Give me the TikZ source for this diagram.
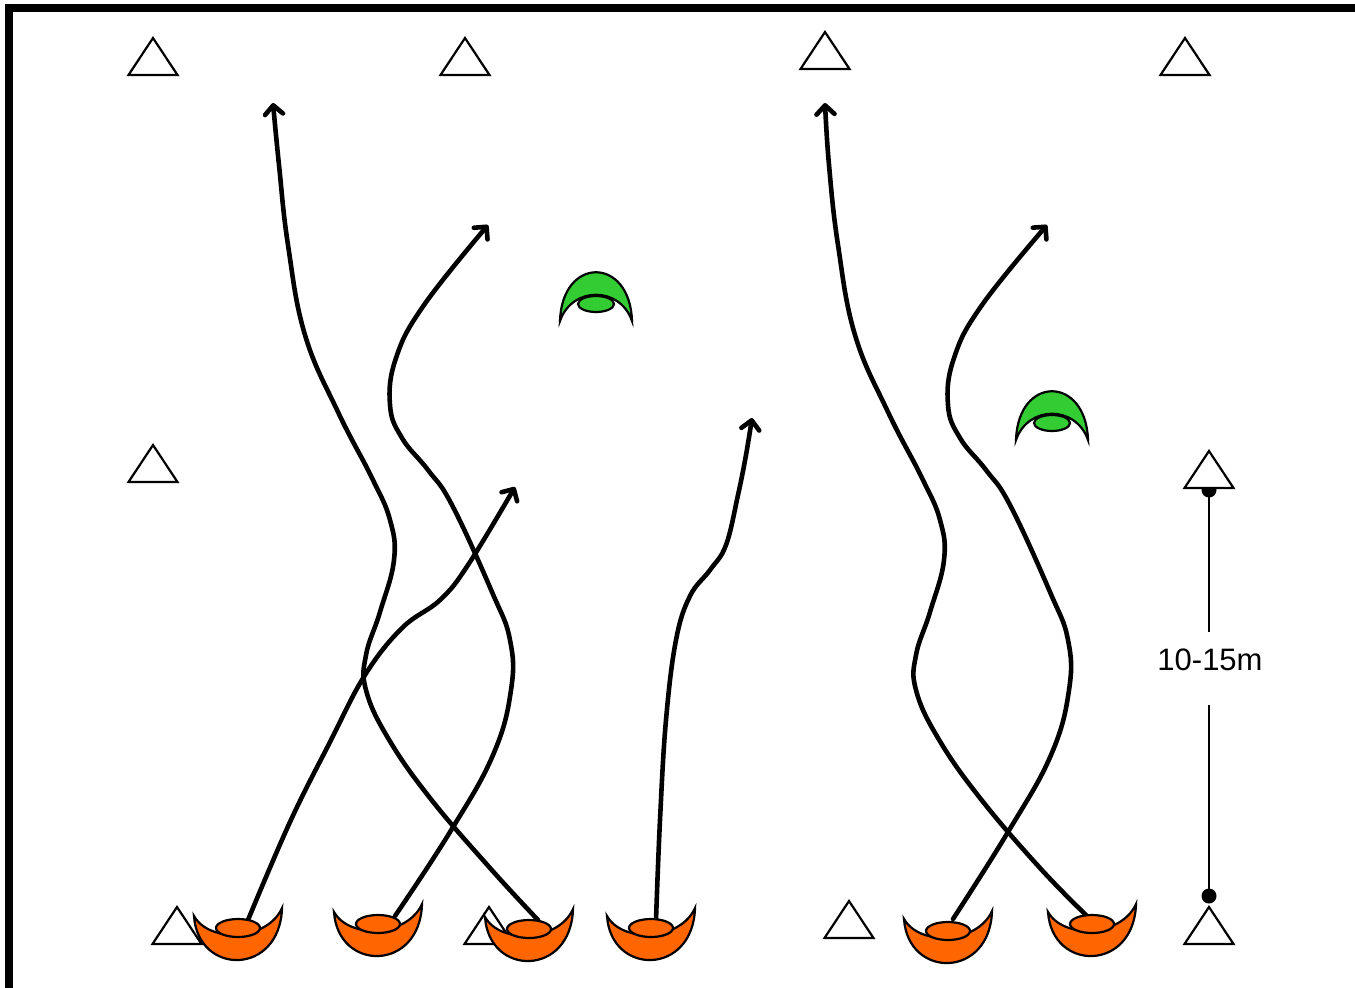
\documentclass[tikz,border=0pt]{standalone}
\usepackage{fontspec}
\setmainfont{Liberation Sans}
\usetikzlibrary{arrows.meta}
\definecolor{orangeC}{HTML}{FF6600}
\definecolor{greenC}{HTML}{33CC33}
\tikzset{
  cone/.pic={\draw[fill=white,line width=2.2pt,line join=miter] (-24.5,0) -- (0,-37) -- (24.5,0) -- cycle;},
  oplayer/.pic={
    \draw[fill=orangeC,line width=2.2pt] (-44,-12) .. controls (-40,48) and (42,48) .. (44,-20) .. controls (30,12) and (-28,16) .. cycle;
    \draw[fill=orangeC,line width=2.2pt] (0,0) ellipse [x radius=22pt, y radius=9pt];},
  gplayer/.pic={
    \draw[fill=greenC,line width=2.2pt] (-36,17) .. controls (-34,-48) and (34,-48) .. (36,17) .. controls (24,-18) and (-24,-18) .. cycle;
    \draw[fill=greenC,line width=2.2pt] (0,0) ellipse [x radius=18pt, y radius=8pt];},
  run/.style={line width=4.6pt, -{Straight Barb[length=9pt,width=18pt,round]}, line cap=round, line join=round},
  measure/.style={line width=2pt},
  dot/.style={circle, fill=black, inner sep=0pt, minimum size=15pt},
}
\begin{document}
\begin{tikzpicture}[x=1pt,y=-1pt]
\useasboundingbox (0,0) rectangle (1355,988);
\fill[white] (0,0) rectangle (1355,988);
\draw[line width=8pt] (9,995) -- (9,8) -- (1360,8);

% measurement
\node[dot] (dtop) at (1209,490) {};
\node[dot] (dbot) at (1209,896) {};
\node[font=\fontsize{31}{36}\selectfont] (lbl) at (1210,660) {10-15m};
\coordinate (m1) at (1209,632);
\coordinate (m2) at (1209,705);
\draw[measure] (dtop.center) -- (m1);
\draw[measure] (m2) -- (dbot.center);

% cones
\foreach \n/\x/\y in {t1/153/75, t2/465/75, t3/825/69, t4/1185/75, t5/153/482, t6/1209/488, t7/177/944, t8/489/944, t9/849/938, t10/1209/944}{
  \coordinate (\n) at (\x,\y);
  \pic at (\n) {cone};
}

% run starts and ends
\coordinate (sA) at (248,920);  \coordinate (eA) at (515,487);
\coordinate (sB) at (395,916);  \coordinate (eB) at (488,225);
\coordinate (sC) at (538,920);  \coordinate (eC) at (273,103);
\coordinate (sD) at (656,920);  \coordinate (eD) at (752,418);
\coordinate (sE) at (953,919);  \coordinate (eE) at (1047,225);
\coordinate (sF) at (1087,916); \coordinate (eF) at (825,103);

\draw[run] plot[smooth,tension=0.65] coordinates {(sA) (290,822) (330,742) (365,675) (402,628) (440,600) (468,565) (eA)};
\draw[run] plot[smooth,tension=0.7] coordinates {(sB) (450,832) (493,755) (511,690) (510,640) (492,592) (452,505) (428,470) (402,438) (390,405) (396,358) (424,305) (eB)};
\draw[run] plot[smooth,tension=0.7] coordinates {(sC) (490,868) (430,798) (388,738) (366,690) (366,655) (380,612) (394,560) (390,520) (372,478) (338,412) (305,335) (288,245) (279,165) (eC)};
\draw[run] plot[smooth,tension=0.65] coordinates {(sD) (660,820) (666,720) (676,640) (690,596) (710,570) (726,545) (738,495) (746,455) (eD)};
\draw[run] plot[smooth,tension=0.7] coordinates {(sE) (1008,832) (1051,755) (1069,690) (1068,640) (1050,592) (1010,505) (986,470) (960,438) (948,405) (954,358) (982,305) (eE)};
\draw[run] plot[smooth,tension=0.7] coordinates {(sF) (1040,868) (980,798) (938,738) (916,690) (916,655) (930,612) (944,560) (940,520) (922,478) (888,412) (855,335) (838,245) (829,165) (eF)};

% players
\foreach \n/\x/\y in {p1/238/928, p2/378/924, p3/529/929, p4/651/928, p5/948/931, p6/1092/924}{
  \coordinate (\n) at (\x,\y);
  \pic at (\n) {oplayer};
}
\foreach \n/\x/\y in {g1/596/304, g2/1052/423}{
  \coordinate (\n) at (\x,\y);
  \pic at (\n) {gplayer};
}
\end{tikzpicture}
\end{document}
